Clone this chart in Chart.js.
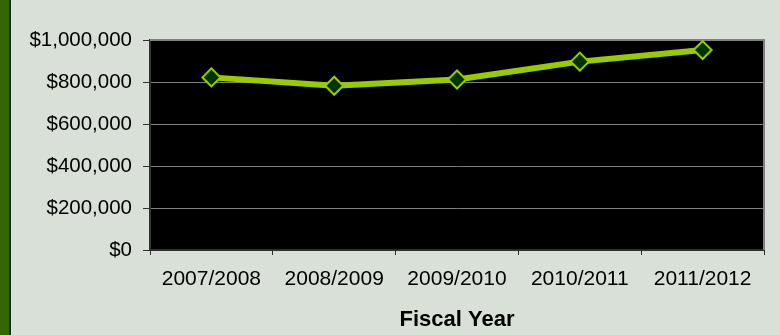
<!DOCTYPE html>
<html>
<head>
<meta charset="utf-8">
<script src="https://cdn.jsdelivr.net/npm/chart.js@4/dist/chart.umd.min.js"></script>
<style>
  html, body { margin: 0; padding: 0; background: #d8e0d8; }
  #wrap { position: relative; width: 780px; height: 335px; overflow: hidden; }
  #stripe { position: absolute; left: 0; top: 0; width: 9px; height: 335px; background: #336600; border-right: 2px solid #1e261e; }
  #c { position: absolute; left: 0; top: 0; }
</style>
</head>
<body>
<div id="wrap">
  <div id="stripe"></div>
  <canvas id="c" width="780" height="335"></canvas>
</div>
<script>
// Fiscal years on the category axis
const fiscalYears = ['2007/2008', '2008/2009', '2009/2010', '2010/2011', '2011/2012'];
// Annual amounts in dollars
const amounts = [822000, 782000, 812000, 897000, 952000];
// Value axis range
const yMin = 0;
const yMax = 1000000;
const yStep = 200000;

const FONT = "'Liberation Sans', Arial, Helvetica, sans-serif";

// Black plotting area with a grey frame on the top and right
const plotFrame = {
  id: 'plotFrame',
  beforeDraw(chart) {
    const { ctx, chartArea: a } = chart;
    ctx.save();
    ctx.fillStyle = '#000000';
    ctx.fillRect(a.left, a.top, a.right - a.left, a.bottom - a.top);
    ctx.restore();
  },
  beforeDatasetsDraw(chart) {
    const { ctx, chartArea: a } = chart;
    ctx.save();
    ctx.strokeStyle = '#808080';
    ctx.lineWidth = 2;
    ctx.beginPath();
    ctx.moveTo(a.left, a.top);
    ctx.lineTo(a.right, a.top);
    ctx.lineTo(a.right, a.bottom);
    ctx.stroke();
    ctx.restore();
  }
};

new Chart(document.getElementById('c'), {
  type: 'line',
  data: {
    labels: fiscalYears,
    datasets: [{
      data: amounts,
      borderColor: '#99cc00',
      borderWidth: 6,
      tension: 0,
      pointStyle: 'rectRot',
      pointRadius: 9,
      pointHoverRadius: 9,
      pointBackgroundColor: '#003300',
      pointBorderColor: '#99cc00',
      pointBorderWidth: 2
    }]
  },
  plugins: [plotFrame],
  options: {
    responsive: false,
    animation: false,
    devicePixelRatio: 1,
    layout: { padding: { left: 0, top: 40, right: 16, bottom: 0 } },
    plugins: {
      legend: { display: false },
      tooltip: { enabled: false },
      title: { display: false }
    },
    scales: {
      x: {
        type: 'category',
        offset: true,
        grid: {
          offset: true,
          drawOnChartArea: false,
          drawTicks: true,
          tickLength: 5,
          tickColor: '#303030',
          tickWidth: 1
        },
        border: { display: true, color: '#303030', width: 2 },
        ticks: {
          color: '#000000',
          padding: 12,
          maxRotation: 0,
          autoSkip: false,
          font: { family: FONT, size: 21 }
        },
        title: {
          display: true,
          text: 'Fiscal Year',
          color: '#000000',
          padding: { top: 0, bottom: 2 },
          font: { family: FONT, size: 22, weight: 'bold' }
        },
        afterFit(scale) { scale.height = 85; }
      },
      y: {
        min: yMin,
        max: yMax,
        grid: {
          color: '#808080',
          lineWidth: 1,
          drawTicks: true,
          tickLength: 7,
          tickColor: '#303030'
        },
        border: { display: true, color: '#303030', width: 2 },
        ticks: {
          stepSize: yStep,
          color: '#000000',
          padding: 11,
          font: { family: FONT, size: 20.5 },
          callback: (v) => '$' + Number(v).toLocaleString('en-US')
        },
        afterFit(scale) { scale.width = 150; }
      }
    }
  }
});
</script>
</body>
</html>
